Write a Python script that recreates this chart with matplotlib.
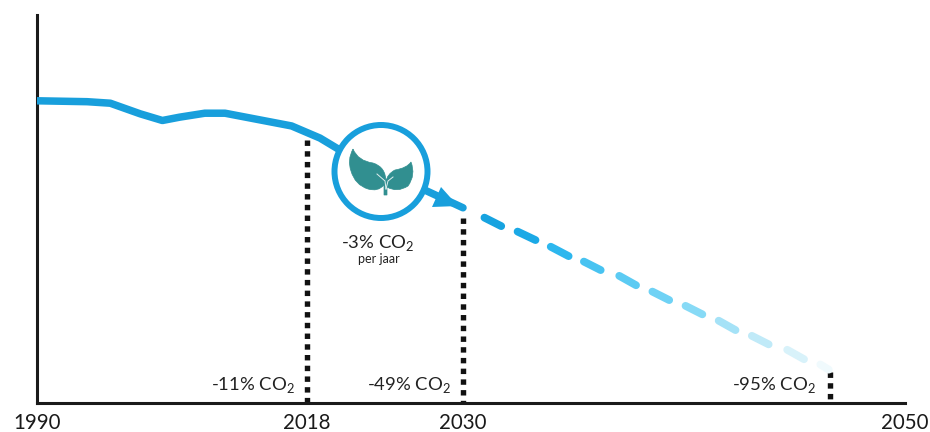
import numpy as np
import matplotlib
matplotlib.use('Agg')
import matplotlib.pyplot as plt
from matplotlib.patches import Circle, Polygon, PathPatch
from matplotlib.path import Path

plt.rcParams['font.family'] = ['Lato', 'DejaVu Sans']
plt.rcParams['mathtext.fontset'] = 'custom'
plt.rcParams['mathtext.rm'] = 'Lato'

# jaren op de as (de as is niet lineair in het origineel)
tick_years = [1990, 2018, 2030, 2050]
tick_px = [0, 270, 426, 868]

# historische lijn
years = [1990, 1995.2, 1997.6, 2000.7, 2003, 2004.8, 2007.4, 2009.5, 2016.4, 2019, 2020.9, 2030]
values = [99.7, 99.4, 98.9, 95.4, 93.2, 94.3, 95.6, 95.6, 91.4, 87.4, 82.5, 64.4]

# streepjes van het doel na 2030
dash_x0 = [2030.97, 2032.47, 2033.97, 2035.47, 2037.07, 2038.57, 2040.07, 2041.57, 2043.07, 2044.67, 2046.17]
dash_x1 = [2031.73, 2033.28, 2034.78, 2036.23, 2037.83, 2039.33, 2040.83, 2042.33, 2043.83, 2045.43, 2046.55]
dash_y0 = [61.15, 56.55, 51.55, 46.65, 41.95, 36.75, 32.05, 27.15, 22.15, 17.55, 12.7]
dash_y1 = [58.35, 53.75, 48.45, 43.85, 38.85, 33.95, 29.25, 24.05, 19.35, 14.45, 11.0]
dash_colors = ['#17a3e0', '#1ba9e6', '#2db7ee', '#48c3f1', '#5ccbf3', '#6fd2f5',
               '#87daf6', '#a5e2f7', '#c0eaf8', '#d8f2fa', '#f0fafd']

# stippellijnen
drop_years = [2018, 2030, 2046.6]
drop_tops = [86.8, 61.0, 10.2]

# teksten
labels = ['-11% CO$_2$', '-49% CO$_2$', '-95% CO$_2$']
label_right = [295, 451, 816]

fig = plt.figure(figsize=(9.3, 4.32), dpi=100)
ax = fig.add_axes([37 / 930, 1 - 403 / 432, 868 / 930, 388 / 432])


def forward(x):
    return np.interp(x, tick_years, tick_px)


def inverse(x):
    return np.interp(x, tick_px, tick_years)


ax.set_xscale('function', functions=(forward, inverse))
ax.set_xlim(1990, 2050)
ax.set_ylim(0, 128)

blue = '#189fdc'
ax.plot(years, values, color=blue, lw=5.4, solid_capstyle='round', solid_joinstyle='round', zorder=3)

for i in range(len(dash_x0)):
    ax.plot([dash_x0[i], dash_x1[i]], [dash_y0[i], dash_y1[i]], color=dash_colors[i], lw=5.6,
            solid_capstyle='round', zorder=3)

for i in range(len(drop_years)):
    ax.plot([drop_years[i], drop_years[i]], [drop_tops[i], 0], color='#111111', lw=3.9,
            linestyle=(0, (1, 0.98)), dash_capstyle='butt', zorder=2)

for side in ['top', 'right']:
    ax.spines[side].set_visible(False)
for side in ['left', 'bottom']:
    ax.spines[side].set_linewidth(2.2)
    ax.spines[side].set_color('#1a1a1a')

ax.set_xticks(tick_years)
ax.set_xticklabels([str(y) for y in tick_years], fontsize=14.8, color='#1a1a1a')
ax.xaxis.set_minor_locator(matplotlib.ticker.NullLocator())
ax.tick_params(axis='x', length=0, pad=7)
ax.set_yticks([])

# laag in pixels voor het icoon en de teksten
top = fig.add_axes([0, 0, 1, 1], zorder=5)
top.set_xlim(0, 930)
top.set_ylim(432, 0)
top.axis('off')

top.add_patch(Polygon([[458, 206], [441, 187], [432, 207]], closed=True, color=blue, lw=0))
top.add_patch(Circle((381, 171.5), 46.5, facecolor='white', edgecolor=blue, lw=4.3))

# blaadjes
green = '#318f90'
leaf = [(Path.MOVETO, (353, 149)), (Path.CURVE3, (347, 160)), (Path.CURVE3, (351, 171)),
        (Path.CURVE3, (355, 185)), (Path.CURVE3, (368, 189)), (Path.CURVE3, (378, 192)),
        (Path.CURVE3, (384, 185)), (Path.LINETO, (384, 195)), (Path.LINETO, (387, 195)),
        (Path.LINETO, (387, 187)), (Path.CURVE3, (397, 193)), (Path.CURVE3, (408, 186)),
        (Path.CURVE3, (416, 175)), (Path.CURVE3, (411, 162)), (Path.CURVE3, (407, 168)),
        (Path.CURVE3, (395, 170)), (Path.CURVE3, (387, 174)), (Path.CURVE3, (386, 182)),
        (Path.CURVE3, (386, 167)), (Path.CURVE3, (373, 163)), (Path.CURVE3, (358, 161)),
        (Path.CURVE3, (353, 149))]
codes = [c for c, p in leaf]
verts = [p for c, p in leaf]
top.add_patch(PathPatch(Path(verts, codes), facecolor=green, edgecolor=green, lw=0.5))
top.plot([377, 385, 386], [174, 181, 189], color='white', lw=0.7, alpha=0.85)
top.plot([393, 388, 386], [177, 181, 189], color='white', lw=0.7, alpha=0.85)

text_color = '#222222'
for i in range(len(labels)):
    top.text(label_right[i], 385, labels[i], ha='right', va='center', fontsize=13.3, color=text_color)
top.text(378, 243, '-3% CO$_2$', ha='center', va='center', fontsize=13.3, color=text_color)
top.text(379, 259, 'per jaar', ha='center', va='center', fontsize=9, color=text_color)

fig.savefig('out.png', dpi=100)
